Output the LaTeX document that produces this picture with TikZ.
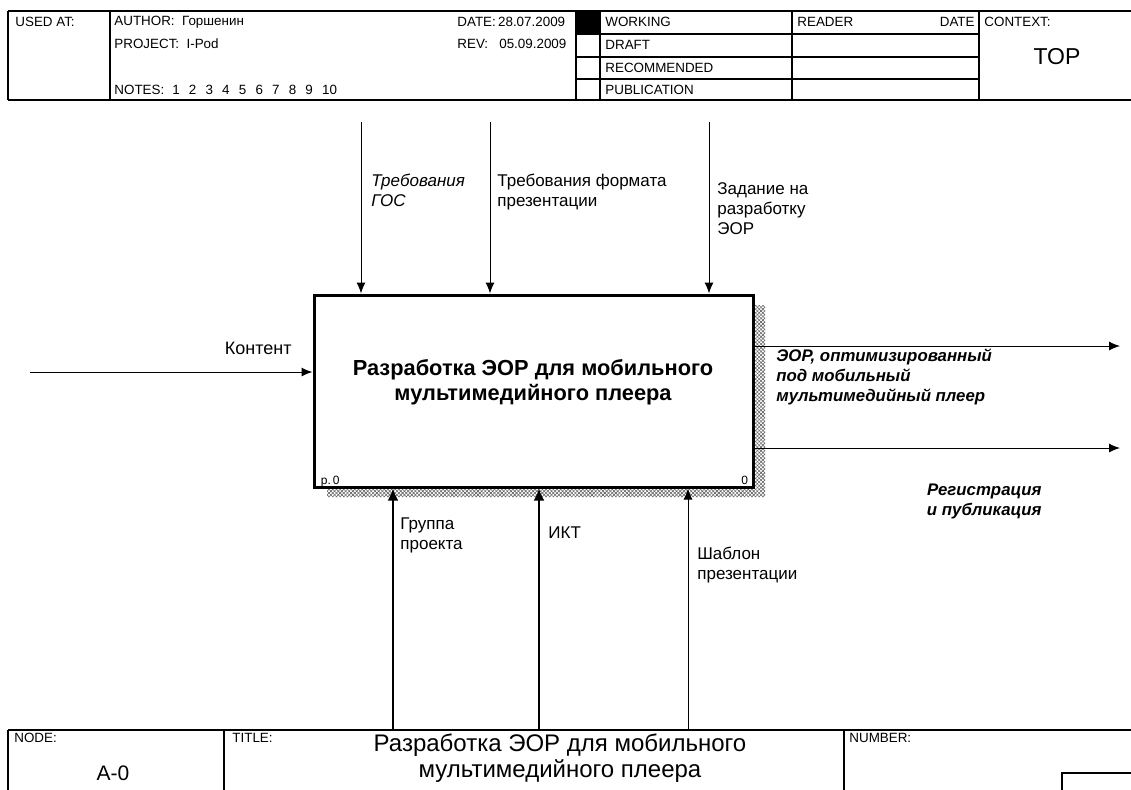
\documentclass[tikz,border=0pt]{standalone}
\usepackage{fontspec}
\setmainfont{Liberation Sans}
\usetikzlibrary{arrows.meta,patterns.meta}

\tikzset{
  hdr/.style={font=\fontsize{6.7}{8}\selectfont, inner sep=0, anchor=west},
  lbl/.style={font=\fontsize{8.5}{10}\selectfont, align=left, inner sep=0, anchor=north west},
  ilbl/.style={lbl, font=\fontsize{8.5}{10}\selectfont\itshape},
  olbl/.style={lbl, font=\fontsize{8.4}{10}\selectfont\bfseries\itshape},
  flow/.style={-{Latex[length=5.5pt,width=4.5pt]}, line width=0.5pt},
  heavyflow/.style={-{Latex[length=6pt,width=5.5pt]}, line width=1.4pt},
  frame/.style={line width=0.8pt},
  hatch/.style={pattern={Lines[angle=45,distance=1.3pt,line width=0.3pt]}, pattern color=black!60},
  rhatch/.style={pattern={Lines[angle=-45,distance=1.3pt,line width=0.3pt]}, pattern color=black!60},
}

\begin{document}
\begin{tikzpicture}[x=0.5pt, y=-0.5pt]

    \useasboundingbox (0,0) rectangle (1131,789);
    \clip (0,0) rectangle (1131,789);

    % header frame
    \draw [frame] (8,11) -- (1140,11);
    \draw [frame] (8,100) -- (1140,100);
    \draw [frame] (8,11) -- (8,100);
    \foreach \xx in {110,576,600,792,979}
        \draw [frame] (\xx,11) -- (\xx,100);
    \foreach \yy in {34,57,79}
        \draw [frame] (576,\yy) -- (979,\yy);
    \fill (576,11) rectangle (600,34);

    \node (usedat) [hdr] at (15,22) {USED AT:};
    \node (author) [hdr] at (114,22) {AUTHOR:\ \ Горшенин};
    \node (project) [hdr] at (114,44) {PROJECT:\ \ I-Pod};
    \node (notes) [hdr] at (114,90) {NOTES:\hspace{4pt}1\hspace{4.6pt}2\hspace{4.6pt}3\hspace{4.6pt}4\hspace{4.6pt}5\hspace{4.6pt}6\hspace{4.6pt}7\hspace{4.6pt}8\hspace{4.6pt}9\hspace{4.6pt}10};
    \node (date) [hdr] at (457,22) {DATE:\,28.07.2009};
    \node (rev) [hdr] at (457,44) {REV:\ \ \ 05.09.2009};
    \node (working) [hdr] at (605,22) {WORKING};
    \node (draft) [hdr] at (605,45) {DRAFT};
    \node (recomm) [hdr] at (605,68) {RECOMMENDED};
    \node (public) [hdr] at (605,90) {PUBLICATION};
    \node (reader) [hdr] at (797,22) {READER};
    \node (rdate) [hdr, anchor=east] at (975,22) {DATE};
    \node (context) [hdr] at (984,22) {CONTEXT:};
    \node (top) [font=\fontsize{11.5}{13}\selectfont] at (1057,57) {TOP};

    % shadow and activity box
    \path [preaction={hatch}, rhatch] (327,487) -- (327,497) -- (765,497) -- (765,305) -- (753,305) -- (753,487) -- cycle;
    \node (box) [draw, fill=white, line width=1.5pt, minimum width=219.5pt, minimum height=96pt, inner sep=0] at (533.5,391) {};
    \node (boxtxt) [font=\fontsize{10.9}{12.5}\selectfont\bfseries, align=center] at (533,382) {Разработка ЭОР для мобильного\\мультимедийного плеера};
    \node (pnum) [font=\fontsize{6}{7}\selectfont, anchor=base west, inner sep=0] at ([xshift=4pt,yshift=2pt]box.south west) {p.\,0};
    \node (bnum) [font=\fontsize{6}{7}\selectfont, anchor=base east, inner sep=0] at ([xshift=-3pt,yshift=2pt]box.south east) {0};

    % controls
    \coordinate (gos) at (361,122);
    \coordinate (fmt) at (490,122);
    \coordinate (zad) at (709,122);
    \draw [flow] (gos) -- (gos |- box.north);
    \draw [flow] (fmt) -- (fmt |- box.north);
    \draw [flow] (zad) -- (zad |- box.north);
    \node (gosl) [ilbl] at (371,174) {Требования\\ГОС};
    \node (fmtl) [lbl] at (497,174) {Требования формата\\презентации};
    \node (zadl) [lbl] at (717,182) {Задание на\\разработку\\ЭОР};

    % input
    \coordinate (kont) at (30,372);
    \draw [flow] (kont) -- (kont -| box.west);
    \node (kontl) [font=\fontsize{9}{10}\selectfont, anchor=east, inner sep=0] at (292,348) {Контент};

    % outputs
    \coordinate (eor) at (1120,346);
    \coordinate (reg) at (1120,448);
    \draw [flow] (eor -| box.east) -- (eor);
    \draw [flow] (reg -| box.east) -- (reg);
    \node (eorl) [olbl] at (776,349) {ЭОР, оптимизированный\\под мобильный\\мультимедийный плеер};
    \node (regl) [olbl, align=right, anchor=north east] at (1042,484) {Регистрация\\и публикация};

    % mechanisms
    \coordinate (grp) at (393,730);
    \coordinate (ikt) at (539,730);
    \coordinate (shab) at (688,730);
    \draw [heavyflow] (grp) -- (grp |- box.south);
    \draw [heavyflow] (ikt) -- (ikt |- box.south);
    \draw [flow] (shab) -- (shab |- box.south);
    \node (grpl) [lbl] at (400,517) {Группа\\проекта};
    \node (iktl) [lbl] at (548,526) {ИКТ};
    \node (shabl) [lbl] at (697,547) {Шаблон\\презентации};

    % footer
    \draw [frame] (8,730) -- (1140,730);
    \draw [frame] (8,730) -- (8,800);
    \draw [frame] (224,730) -- (224,800);
    \draw [frame] (844,730) -- (844,800);
    \draw [frame] (1062,773) rectangle (1145,800);
    \node (nodehd) [hdr] at (14,738) {NODE:};
    \node (titlehd) [hdr] at (232,738) {TITLE:};
    \node (numhd) [hdr] at (849,738) {NUMBER:};
    \node (nodeid) [font=\fontsize{10.5}{12}\selectfont] at (113,773) {A-0};
    \node (title) [font=\fontsize{12}{13}\selectfont, align=center] at (560,758) {Разработка ЭОР для мобильного\\мультимедийного плеера};

\end{tikzpicture}
\end{document}
